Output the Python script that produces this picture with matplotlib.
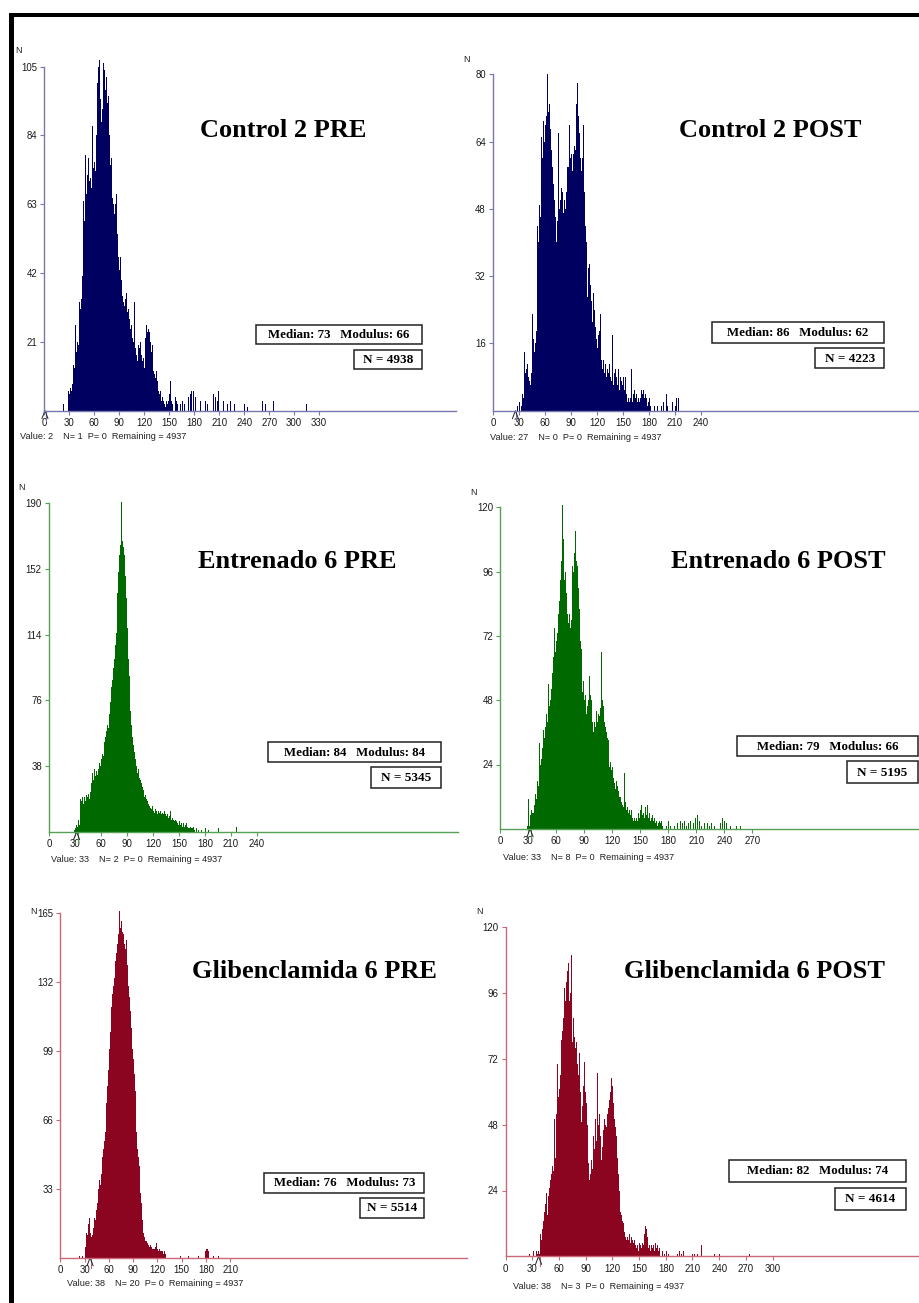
import matplotlib
matplotlib.use("Agg")
import matplotlib.pyplot as plt
import numpy as np
from matplotlib.patches import Rectangle

W, H, DPI = 920, 1303, 100

# ---------------- DATA ----------------
# Control 2 PRE
c2pre_start = 28
c2pre_counts = [1, 6, 5, 7, 6, 8, 9, 14, 13, 26, 18, 21, 22, 20, 33, 31, 34, 41, 54, 64,
                58, 78, 66, 72, 69, 77, 70, 71, 68, 87, 70, 74, 76, 73, 84, 100, 98, 105, 107, 95,
                88, 92, 100, 106, 104, 98, 102, 94, 90, 96, 84, 75, 77, 65, 67, 63, 60, 63, 66, 54,
                50, 47, 43, 47, 40, 35, 36, 33, 32, 34, 36, 30, 32, 31, 28, 25, 26, 22, 24, 21,
                33, 19, 17, 15, 18, 20, 19, 21, 17, 15, 14, 16, 13, 22, 26, 24, 20, 25, 24, 21,
                18, 20, 15, 12, 11, 10, 12, 9, 7, 6, 5, 6, 3, 4, 2, 3, 2, 1, 3, 2,
                1, 3, 5, 9, 3, 2]
c2pre_tail_x = [23, 157, 158, 159, 163, 165, 168, 173, 175, 176, 178, 179, 181, 187, 190, 193, 195,
                203, 205, 207, 209, 215, 219, 223, 228, 232, 238, 240, 243, 261, 265, 275, 286, 314]
c2pre_tail_n = [2, 4, 3, 2, 2, 3, 2, 4, 5, 6, 8, 6, 4, 3, 2, 3, 2,
                5, 4, 3, 6, 3, 2, 3, 2, 1, 2, 2, 1, 3, 2, 3, 2, 2]

# Control 2 POST
c2post_start = 33
c2post_counts = [1, 4, 3, 14, 9, 10, 11, 8, 6, 7, 6, 9, 23, 17, 14, 19, 16, 19, 44, 40,
                 49, 46, 65, 69, 60, 69, 64, 68, 70, 80, 75, 71, 73, 67, 62, 58, 54, 50, 43, 46,
                 40, 45, 66, 48, 50, 48, 53, 52, 47, 50, 48, 52, 58, 56, 58, 68, 60, 61, 57, 61,
                 55, 63, 62, 73, 78, 70, 66, 60, 62, 57, 60, 68, 52, 44, 40, 27, 36, 34, 35, 30,
                 26, 21, 28, 38, 24, 20, 17, 15, 18, 19, 23, 14, 12, 10, 12, 9, 11, 8, 11, 10,
                 9, 11, 8, 7, 18, 6, 7, 9, 10, 8, 6, 10, 5, 6, 8, 7, 6, 8, 5, 8,
                 4, 3, 2, 3, 2, 3, 10, 2, 6, 4, 5, 3, 4, 2, 3, 2, 13, 3, 5, 4,
                 5, 3, 4, 2, 3, 1, 2, 3, 1]
c2post_tail_x = [18, 28, 30, 32, 184, 186, 189, 194, 196, 200, 201, 207, 210, 211, 213, 221]
c2post_tail_n = [1, 1, 2, 1, 2, 1, 1, 1, 2, 4, 1, 2, 1, 3, 3, 1]

# Entrenado 6 PRE
e6pre_start = 29
e6pre_counts = [1, 2, 4, 3, 5, 7, 4, 19, 18, 20, 16, 20, 22, 18, 21, 20, 22, 19, 23, 25,
                28, 34, 30, 36, 32, 35, 33, 37, 36, 40, 38, 42, 45, 44, 48, 52, 55, 58, 62, 60,
                68, 75, 78, 84, 88, 95, 100, 108, 115, 125, 138, 150, 160, 166, 191, 168, 165, 178, 160, 148,
                135, 118, 100, 90, 80, 70, 62, 55, 50, 46, 42, 38, 36, 34, 36, 31, 30, 28, 26, 24,
                22, 20, 21, 19, 18, 16, 15, 16, 14, 13, 15, 12, 11, 13, 12, 11, 10, 12, 11, 12,
                10, 11, 9, 10, 12, 10, 9, 10, 8, 9, 8, 12, 7, 8, 7, 6, 7, 5, 6, 5,
                4, 6, 4, 5, 3, 4, 5, 3, 4, 5, 3, 2, 3, 2, 3, 2, 2, 3, 1]
e6pre_tail_x = [170, 172, 175, 180, 183, 195, 216]
e6pre_tail_n = [2, 1, 1, 2, 1, 2, 3]

# Entrenado 6 POST
e6post_start = 29
e6post_counts = [1, 11, 1, 5, 7, 6, 6, 9, 13, 11, 18, 16, 26, 32, 24, 26, 30, 37, 34, 38,
                 43, 40, 54, 46, 48, 52, 58, 55, 64, 75, 66, 70, 73, 80, 85, 93, 100, 121, 108, 93,
                 96, 88, 84, 80, 77, 80, 75, 78, 98, 96, 103, 111, 100, 98, 90, 82, 70, 72, 67, 51,
                 55, 48, 50, 43, 46, 48, 57, 50, 48, 40, 36, 40, 42, 38, 44, 40, 43, 42, 45, 66,
                 48, 46, 40, 38, 36, 34, 33, 28, 23, 25, 22, 23, 19, 17, 15, 18, 16, 14, 12, 12,
                 10, 9, 11, 8, 21, 10, 7, 8, 6, 7, 5, 7, 4, 3, 4, 3, 4, 5, 3, 6,
                 4, 7, 9, 5, 6, 4, 8, 5, 9, 4, 6, 3, 5, 4, 5, 3, 4, 2, 3, 1,
                 2, 3, 2, 3, 1]
e6post_tail_x = [176, 178, 180, 182, 186, 189, 191, 193, 195, 197, 199, 201, 203, 205, 207, 209, 211,
                 213, 215, 218, 220, 222, 224, 226, 229, 236, 238, 240, 242, 246, 250, 253, 257]
e6post_tail_n = [2, 1, 3, 1, 1, 2, 1, 3, 2, 3, 1, 2, 3, 1, 2, 4, 5,
                 3, 1, 2, 1, 2, 1, 2, 1, 2, 4, 3, 2, 1, 1, 1, 1]

# Glibenclamida 6 PRE
g6pre_start = 30
g6pre_counts = [7, 5, 12, 11, 16, 13, 19, 12, 10, 11, 14, 17, 19, 18, 23, 26, 29, 33, 37, 35,
                40, 44, 48, 52, 56, 60, 66, 74, 82, 90, 100, 108, 115, 120, 126, 130, 134, 138, 142, 146,
                150, 155, 160, 166, 158, 161, 156, 160, 155, 150, 148, 152, 140, 136, 130, 125, 118, 110, 105, 100,
                95, 88, 80, 72, 60, 52, 48, 44, 40, 31, 26, 18, 12, 10, 9, 8, 8, 7, 6, 8,
                5, 6, 5, 4, 5, 4, 4, 5, 7, 3, 4, 3, 4, 3, 3, 4, 3, 2, 3, 2]
g6pre_tail_x = [23, 25, 27, 148, 158, 170, 179, 180, 181, 182, 183, 189, 195]
g6pre_tail_n = [1, 2, 1, 1, 1, 1, 3, 4, 4, 3, 2, 1, 1]

# Glibenclamida 6 POST
g6post_start = 34
g6post_counts = [2, 1, 2, 1, 4, 8, 6, 10, 13, 16, 19, 23, 15, 17, 22, 25, 28, 30, 33, 31,
                 50, 36, 45, 52, 70, 58, 61, 66, 79, 82, 87, 110, 98, 93, 100, 104, 107, 93, 96, 110,
                 121, 78, 87, 80, 76, 78, 70, 66, 74, 71, 60, 49, 55, 62, 71, 60, 56, 48, 40, 34,
                 28, 30, 35, 32, 44, 39, 50, 45, 42, 67, 48, 52, 44, 35, 40, 46, 44, 50, 48, 47,
                 52, 54, 57, 60, 65, 84, 62, 56, 50, 47, 44, 36, 30, 24, 20, 16, 15, 13, 12, 9,
                 7, 6, 7, 5, 6, 8, 5, 7, 6, 5, 6, 4, 6, 3, 4, 2, 5, 4, 3, 5,
                 4, 6, 8, 11, 10, 7, 3, 4, 2, 4, 5, 3, 4, 2, 5, 3, 4, 2, 3]
g6post_tail_x = [26, 29, 31, 176, 178, 180, 183, 191, 193, 195, 197, 199, 210, 212, 215, 220, 234, 240, 274]
g6post_tail_n = [1, 1, 2, 2, 1, 2, 1, 2, 1, 2, 1, 2, 1, 1, 1, 4, 1, 1, 1]

titles = ["Control 2 PRE", "Control 2 POST", "Entrenado 6 PRE",
          "Entrenado 6 POST", "Glibenclamida 6 PRE", "Glibenclamida 6 POST"]
medians = [73, 86, 84, 79, 76, 82]
moduli = [66, 62, 84, 66, 73, 74]
n_totals = [4938, 4223, 5345, 5195, 5514, 4614]
cursor_values = [2, 27, 33, 33, 38, 38]
cursor_n = [1, 0, 2, 8, 20, 3]
cursor_p = [0, 0, 0, 0, 0, 0]
remaining = [4937] * 6
y_ticks = [[21, 42, 63, 84, 105], [16, 32, 48, 64, 80], [38, 76, 114, 152, 190],
           [24, 48, 72, 96, 120], [33, 66, 99, 132, 165], [24, 48, 72, 96, 120]]
x_tick_max = [330, 240, 240, 270, 210, 300]

series = [
    (c2pre_start, c2pre_counts, c2pre_tail_x, c2pre_tail_n),
    (c2post_start, c2post_counts, c2post_tail_x, c2post_tail_n),
    (e6pre_start, e6pre_counts, e6pre_tail_x, e6pre_tail_n),
    (e6post_start, e6post_counts, e6post_tail_x, e6post_tail_n),
    (g6pre_start, g6pre_counts, g6pre_tail_x, g6pre_tail_n),
    (g6post_start, g6post_counts, g6post_tail_x, g6post_tail_n),
]

# ---------------- LAYOUT (pixels) ----------------
# x0 (value 0), x1 (axis end), px per unit, baseline y, top-tick y
layout = [
    (44.3, 456, 0.833, 410.5, 66.7),
    (493, 920, 0.867, 410.7, 74.3),
    (49, 458, 0.867, 831.7, 503.3),
    (500.3, 920, 0.933, 828.8, 507.3),
    (60.3, 467, 0.81, 1257.7, 913.0),
    (505.8, 920, 0.889, 1256.3, 927.3),
]
bar_colors = ["#000060", "#000060", "#006a00", "#006a00", "#8c0520", "#8c0520"]
axis_colors = ["#7878b0", "#7878b0", "#55a055", "#55a055", "#c86878", "#c86878"]
title_pos = [(200, 137), (679, 137), (198, 568), (671, 568), (192, 978), (624, 978)]
med_box = [(256, 325, 422, 344), (712, 322, 884, 342.5), (268, 742, 441.5, 762),
           (737, 736, 918, 756), (264, 1173, 424.5, 1193), (729, 1160, 906, 1182)]
n_box = [(354.5, 349.5, 422, 369), (815.5, 348, 884, 368), (371.5, 767, 441.5, 788),
         (847, 761, 918, 783), (360, 1197.5, 424.5, 1217.5), (835, 1188, 906, 1210)]
info_pos = [(20, 439), (490, 440), (51, 862), (503, 860), (67, 1286), (513, 1289)]
nlab_pos = [(15, 53), (463, 62), (18, 490), (470, 495), (30, 914), (476, 914)]

fig = plt.figure(figsize=(W / DPI, H / DPI), dpi=DPI)
fig.patch.set_facecolor("white")

TICK_FS = 6.9
for i in range(6):
    x0, x1, ppu, yb, yt = layout[i]
    ax = fig.add_axes([x0 / W, 1 - yb / H, (x1 - x0) / W, (yb - yt) / H])
    ax.patch.set_alpha(0)
    start, counts, tx, tn = series[i]
    xs = np.concatenate([np.arange(start, start + len(counts)), np.array(tx)])
    ns = np.concatenate([np.array(counts), np.array(tn)])
    ax.bar(xs, ns, width=1.0, align="edge", color=bar_colors[i], linewidth=0, clip_on=False)
    ymax = y_ticks[i][-1]
    ax.set_xlim(0, (x1 - x0) / ppu)
    ax.set_ylim(0, ymax)
    for s in ["top", "right"]:
        ax.spines[s].set_visible(False)
    for s in ["left", "bottom"]:
        ax.spines[s].set_color(axis_colors[i])
        ax.spines[s].set_linewidth(1.0)
    ax.set_xticks(np.arange(0, x_tick_max[i] + 1, 30))
    ax.set_yticks(y_ticks[i])
    ax.tick_params(axis="both", direction="out", length=3.2, width=0.8,
                   color=axis_colors[i], labelsize=TICK_FS, labelcolor="#1a1a1a", pad=2)
    for lab in ax.get_xticklabels() + ax.get_yticklabels():
        lab.set_fontfamily("Liberation Sans")
    # cursor marker
    cv = cursor_values[i]
    dy = ymax / (yb - yt)  # data units per pixel
    ax.plot([cv, cv], [0, -10 * dy], color=axis_colors[i], lw=0.8, clip_on=False)
    ax.plot([cv - 4 / ppu, cv - 1 / ppu, cv + 2 / ppu], [-8 * dy, 0, -8 * dy],
            color="#222222", lw=0.7, clip_on=False)

# overlay for annotations in pixel coords
ov = fig.add_axes([0, 0, 1, 1], zorder=10)
ov.set_xlim(0, W)
ov.set_ylim(H, 0)
ov.axis("off")
ov.patch.set_alpha(0)

# black frame (top and left)
ov.add_patch(Rectangle((9.5, 13), W, 4, color="black", lw=0))
ov.add_patch(Rectangle((9.5, 13), 4.5, H, color="black", lw=0))

for i in range(6):
    tx, ty = title_pos[i]
    ov.text(tx, ty, titles[i], fontsize=19, fontweight="bold", family="Liberation Serif",
            ha="left", va="baseline", color="black")
    bx0, by0, bx1, by1 = med_box[i]
    ov.add_patch(Rectangle((bx0, by0), bx1 - bx0, by1 - by0, fill=False, ec="#222222", lw=1.1))
    ov.text((bx0 + bx1) / 2, (by0 + by1) / 2 + 0.5,
            f"Median: {medians[i]}   Modulus: {moduli[i]}",
            fontsize=9.3, fontweight="bold", family="Liberation Serif", ha="center", va="center")
    bx0, by0, bx1, by1 = n_box[i]
    ov.add_patch(Rectangle((bx0, by0), bx1 - bx0, by1 - by0, fill=False, ec="#222222", lw=1.1))
    ov.text((bx0 + bx1) / 2, (by0 + by1) / 2 + 0.5, f"N = {n_totals[i]}",
            fontsize=9.5, fontweight="bold", family="Liberation Serif", ha="center", va="center")
    ix, iy = info_pos[i]
    ov.text(ix, iy, f"Value: {cursor_values[i]}    N= {cursor_n[i]}  P= {cursor_p[i]}  Remaining = {remaining[i]}",
            fontsize=6.6, family="Liberation Sans", ha="left", va="baseline", color="#222222")
    nx, ny = nlab_pos[i]
    ov.text(nx, ny, "N", fontsize=6.5, family="Liberation Sans", ha="left", va="baseline", color="#222222")

fig.savefig("out.png", dpi=DPI, facecolor="white")
